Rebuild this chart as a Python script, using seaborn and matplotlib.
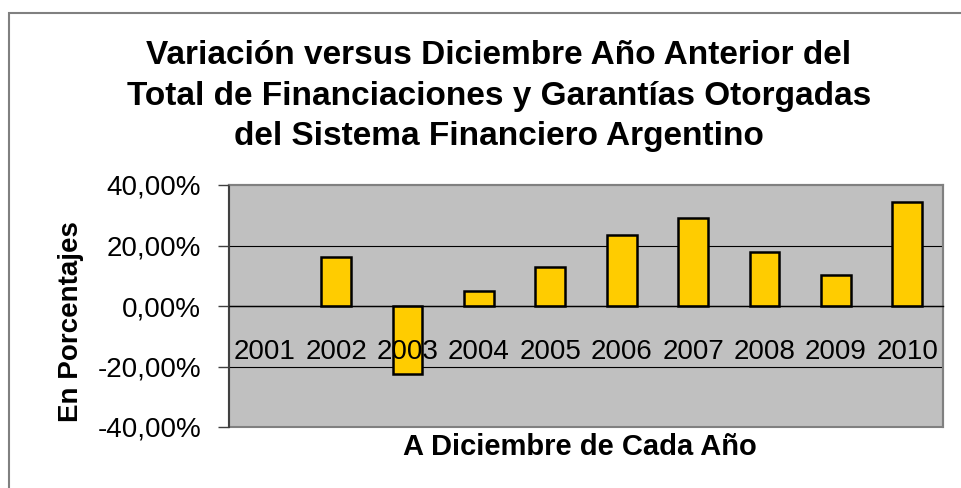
import numpy as np
import pandas as pd
import matplotlib
matplotlib.use("Agg")
import matplotlib.pyplot as plt
from matplotlib.patches import Rectangle
from matplotlib.ticker import FuncFormatter, FixedLocator
import seaborn as sns

# datos (variacion % vs diciembre del año anterior)
years = ["2001", "2002", "2003", "2004", "2005", "2006", "2007", "2008", "2009", "2010"]
variacion = [np.nan, 16.1, -22.5, 4.9, 12.8, 23.4, 29.1, 18.0, 10.4, 34.5]
y_ticks = [-40, -20, 0, 20, 40]

titulo = ("Variación versus Diciembre Año Anterior del\n"
          "Total de Financiaciones y Garantías Otorgadas\n"
          "del Sistema Financiero Argentino")

df = pd.DataFrame({"anio": years, "variacion": variacion})

sns.set_style("white")
plt.rcParams["font.family"] = ["Liberation Sans", "DejaVu Sans"]
plt.rcParams["text.color"] = "black"

fig = plt.figure(figsize=(9.62, 4.88), dpi=100)
ax = fig.add_axes([229 / 962, 1 - 427 / 488, 714 / 962, 242 / 488])

sns.barplot(data=df, x="anio", y="variacion", order=years, color="#FFCC00",
            saturation=1, width=0.42, edgecolor="black", linewidth=1.8,
            errorbar=None, ax=ax, zorder=2)

ax.set_facecolor("#C0C0C0")
ax.set_ylim(-40, 40)
ax.set_xlim(-0.5, len(years) - 0.5)
ax.yaxis.set_major_locator(FixedLocator(y_ticks))
ax.yaxis.set_major_formatter(FuncFormatter(lambda v, p: f"{v:.2f}%".replace(".", ",")))

# lineas de division detras de las barras, etiquetas por encima
ax.set_axisbelow(False)
for t in y_ticks[1:-1]:
    ax.axhline(t, color="black", linewidth=0.8, zorder=1)

# eje x sobre el cero, como en Excel
for s in ["top", "right", "left"]:
    ax.spines[s].set_color("#808080")
    ax.spines[s].set_linewidth(1.5)
ax.spines["left"].set_color("#404040")
ax.spines["bottom"].set_position(("data", 0))
ax.spines["bottom"].set_color("black")
ax.spines["bottom"].set_linewidth(1.0)
ax.patch.set_edgecolor("#808080")
ax.patch.set_linewidth(1.5)

ax.xaxis.set_minor_locator(FixedLocator(np.arange(len(years) + 1) - 0.5))
ax.tick_params(axis="x", which="major", length=0, pad=24, labelsize=20, labelcolor="black")
ax.tick_params(axis="x", which="minor", length=6, width=1, color="#808080", direction="out")
ax.tick_params(axis="y", which="major", length=8, width=1, color="#404040",
               direction="out", pad=12, labelsize=20, labelcolor="black", left=True)

ax.set_xlabel("")
ax.set_ylabel("")
fig.text(580 / 962, 1 - 447 / 488, "A Diciembre de Cada Año", ha="center", va="center",
         fontsize=21, fontweight="bold")
fig.text(71 / 962, 1 - 322 / 488, "En Porcentajes", ha="center", va="center",
         rotation=90, fontsize=20, fontweight="bold")
fig.text(499 / 962, 1 - 96 / 488, titulo, ha="center", va="center",
         fontsize=24, fontweight="bold", linespacing=1.4)

# marco exterior del area del grafico
fig.patches.append(Rectangle((9 / 962, -0.1), 1.2, 1 - 13 / 488 + 0.1,
                             transform=fig.transFigure, fill=False,
                             edgecolor="#808080", linewidth=1.5))

fig.savefig("out.png", dpi=100)
